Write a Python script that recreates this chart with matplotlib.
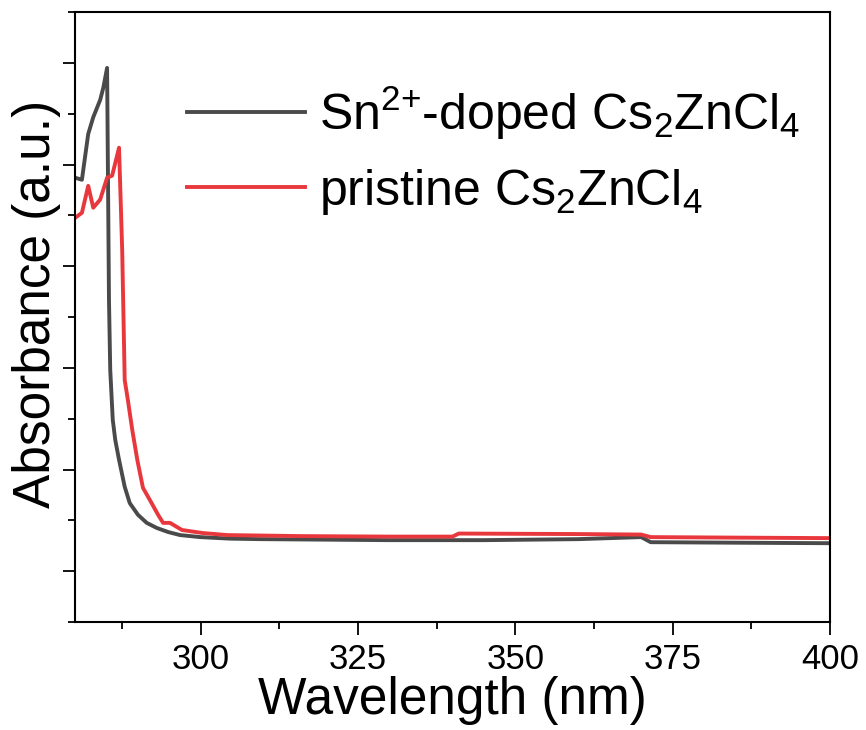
import numpy as np
import matplotlib
matplotlib.use("Agg")
import matplotlib.pyplot as plt
from matplotlib.ticker import MultipleLocator, NullFormatter

plt.rcParams['font.family'] = ['Liberation Sans', 'DejaVu Sans']
plt.rcParams['mathtext.default'] = 'regular'

# Sn2+-doped Cs2ZnCl4
doped_wl = [280.0, 281.1, 282.1, 282.9, 284.0, 284.5, 285.1, 285.4, 285.6, 286.0,
            286.4, 287.0, 287.9, 288.7, 290.0, 291.4, 293.0, 294.8, 296.7, 299.9,
            304.6, 309.4, 320.0, 330.0, 345.0, 360.0, 370.0, 371.5, 385.0, 400.0]
doped_abs = [8.74, 8.70, 9.60, 9.93, 10.27, 10.51, 10.90, 6.34, 4.96, 3.98,
             3.58, 3.19, 2.66, 2.34, 2.11, 1.95, 1.85, 1.77, 1.71, 1.67,
             1.64, 1.63, 1.62, 1.61, 1.61, 1.63, 1.67, 1.57, 1.56, 1.55]

# pristine Cs2ZnCl4
prist_wl = [280.0, 281.1, 282.1, 282.9, 284.0, 285.1, 285.9, 287.0, 287.5, 287.9,
            288.4, 289.1, 289.9, 290.8, 291.9, 293.2, 294.0, 295.1, 297.0, 300.3,
            304.2, 315.8, 330.0, 340.0, 341.0, 360.0, 370.0, 371.5, 385.0, 400.0]
prist_abs = [7.95, 8.05, 8.58, 8.15, 8.31, 8.74, 8.78, 9.33, 7.32, 4.76,
             4.37, 3.78, 3.19, 2.64, 2.40, 2.11, 1.95, 1.95, 1.81, 1.75,
             1.71, 1.69, 1.68, 1.68, 1.74, 1.73, 1.72, 1.67, 1.66, 1.65]

fig = plt.figure(figsize=(8.66, 7.3), dpi=100)
ax = fig.add_axes([75/866, 108/730, 755/866, 610/730])

ax.plot(doped_wl, doped_abs, color='#4a4a4a', lw=2.8,
        label='Sn$^{2{+}}$-doped Cs$_2$ZnCl$_4$')
ax.plot(prist_wl, prist_abs, color='#e8383d', lw=2.8,
        label='pristine Cs$_2$ZnCl$_4$')

ax.set_xlim(280, 400)
ax.set_ylim(0, 12)
ax.xaxis.set_major_locator(MultipleLocator(25))
ax.xaxis.set_minor_locator(MultipleLocator(12.5))
ax.yaxis.set_major_locator(MultipleLocator(2, offset=1))
ax.yaxis.set_minor_locator(MultipleLocator(1))
ax.yaxis.set_major_formatter(NullFormatter())

for s in ax.spines.values():
    s.set_linewidth(1.5)
ax.tick_params(which='major', direction='out', length=9, width=1.3, labelsize=25, pad=6)
ax.tick_params(which='minor', direction='out', length=5, width=1.3)

ax.set_xlabel('Wavelength (nm)', fontsize=37)
ax.set_ylabel('Absorbance (a.u.)', fontsize=37)
ax.xaxis.set_label_coords(0.5, -0.088)
ax.yaxis.set_label_coords(-0.019, 0.522)

ax.legend(loc='upper left', bbox_to_anchor=(0.122, 0.915), fontsize=36, frameon=False,
          handlelength=2.35, handletextpad=0.28, labelspacing=0.5, borderaxespad=0)

fig.savefig('out.png', dpi=100)
